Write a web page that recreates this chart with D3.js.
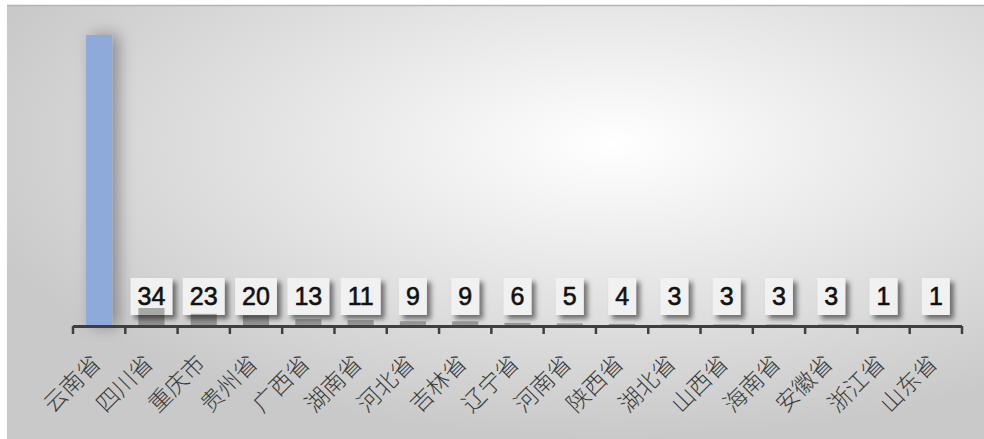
<!DOCTYPE html>
<html>
<head>
<meta charset="utf-8">
<script src="https://cdn.jsdelivr.net/npm/d3@7"></script>
<style>
  html, body { margin: 0; padding: 0; background: #fff; }
  svg { display: block; }
</style>
</head>
<body>
<svg id="chart" width="984" height="439"></svg>
<script>
// 省份和数量
const provinces = ['云南省', '四川省', '重庆市', '贵州省', '广西省', '湖南省', '河北省', '吉林省',
    '辽宁省', '河南省', '陕西省', '湖北省', '山西省', '海南省', '安徽省', '浙江省', '山东省'];
const counts = [550, 34, 23, 20, 13, 11, 9, 9, 6, 5, 4, 3, 3, 3, 3, 1, 1];
const barColors = ['#8eaadb'];

const svg = d3.select('#chart');
const W = 984, H = 439;
const margin = { left: 73, right: 22, top: 35, bottom: 113 };

const defs = svg.append('defs');

const bg = defs.append('radialGradient')
    .attr('id', 'bg')
    .attr('cx', 0.62).attr('cy', 0.32).attr('r', 0.68);
bg.append('stop').attr('offset', '0%').attr('stop-color', '#ffffff');
bg.append('stop').attr('offset', '100%').attr('stop-color', '#c9c9c9');

const barShadow = defs.append('filter').attr('id', 'barShadow')
    .attr('x', '-150%').attr('y', '-10%').attr('width', '400%').attr('height', '120%');
barShadow.append('feDropShadow')
    .attr('dx', 6).attr('dy', 0).attr('stdDeviation', 8)
    .attr('flood-color', '#000').attr('flood-opacity', 0.35);

const boxShadow = defs.append('filter').attr('id', 'boxShadow')
    .attr('x', '-30%').attr('y', '-30%').attr('width', '170%').attr('height', '170%');
boxShadow.append('feDropShadow')
    .attr('dx', 4).attr('dy', 4).attr('stdDeviation', 2.5)
    .attr('flood-color', '#000').attr('flood-opacity', 0.5);

// background panel
svg.append('rect')
    .attr('x', 7).attr('y', 5).attr('width', W - 7).attr('height', H - 5)
    .attr('fill', 'url(#bg)');
svg.append('line')
    .attr('x1', 7).attr('x2', W).attr('y1', 5.5).attr('y2', 5.5)
    .attr('stroke', '#b5b5b5').attr('stroke-width', 1.5);

const x = d3.scaleBand()
    .domain(provinces)
    .range([margin.left, W - margin.right])
    .paddingInner(0.5).paddingOuter(0.25);

const y = d3.scaleLinear()
    .domain([0, d3.max(counts)])
    .range([H - margin.bottom, margin.top]);

const data = provinces.map((p, i) => ({ name: p, value: counts[i], i }));

// first bar (blue, with soft shadow)
svg.append('g')
    .selectAll('rect')
    .data(data.filter(d => d.i === 0))
    .join('rect')
    .attr('x', d => x(d.name))
    .attr('y', d => y(d.value))
    .attr('width', x.bandwidth())
    .attr('height', d => y(0) - y(d.value))
    .attr('fill', d => barColors[d.i])
    .attr('filter', 'url(#barShadow)');

// label boxes
const labels = svg.append('g')
    .selectAll('g')
    .data(data.filter(d => d.i > 0))
    .join('g')
    .attr('transform', d => `translate(${x(d.name) + x.bandwidth() / 2},${y(0) - 30})`);

labels.append('text')
    .attr('text-anchor', 'middle')
    .attr('y', 9)
    .attr('font-family', 'Liberation Sans, Arial, sans-serif')
    .attr('font-size', 25)
    .attr('fill', '#111')
    .attr('stroke', '#111')
    .attr('stroke-width', 0.6)
    .text(d => d.value)
    .each(function (d) { d.tw = this.getComputedTextLength(); });

labels.insert('rect', 'text')
    .attr('x', d => -d.tw / 2 - 7)
    .attr('y', -18)
    .attr('width', d => d.tw + 14)
    .attr('height', 37)
    .attr('fill', '#f1f1f1')
    .attr('filter', 'url(#boxShadow)');

// small bars, drawn over the boxes
svg.append('g')
    .selectAll('rect')
    .data(data.filter(d => d.i > 0))
    .join('rect')
    .attr('x', d => x(d.name))
    .attr('y', d => y(d.value))
    .attr('width', x.bandwidth())
    .attr('height', d => y(0) - y(d.value))
    .attr('fill', '#000')
    .attr('fill-opacity', 0.3);

// x axis
const step = x.step();
const ticks = d3.range(provinces.length + 1).map(k => margin.left + k * step);
const axis = svg.append('g');
axis.append('line')
    .attr('x1', margin.left).attr('x2', W - margin.right)
    .attr('y1', y(0) + 0.5).attr('y2', y(0) + 0.5)
    .attr('stroke', '#3f3f3f').attr('stroke-width', 3);
axis.selectAll('.tick')
    .data(ticks)
    .join('line')
    .attr('class', 'tick')
    .attr('x1', d => d).attr('x2', d => d)
    .attr('y1', y(0)).attr('y2', y(0) + 8)
    .attr('stroke', '#3f3f3f').attr('stroke-width', 2.5);

axis.selectAll('.cat')
    .data(provinces)
    .join('text')
    .attr('class', 'cat')
    .attr('text-anchor', 'end')
    .attr('font-family', 'Noto Sans CJK SC, sans-serif')
    .attr('font-weight', 300)
    .attr('font-size', 23)
    .attr('fill', '#3a3a3a')
    .attr('transform', d => `translate(${x(d) + x.bandwidth() / 2 + 3},${y(0) + 39}) rotate(-45)`)
    .text(d => d);
</script>
</body>
</html>
